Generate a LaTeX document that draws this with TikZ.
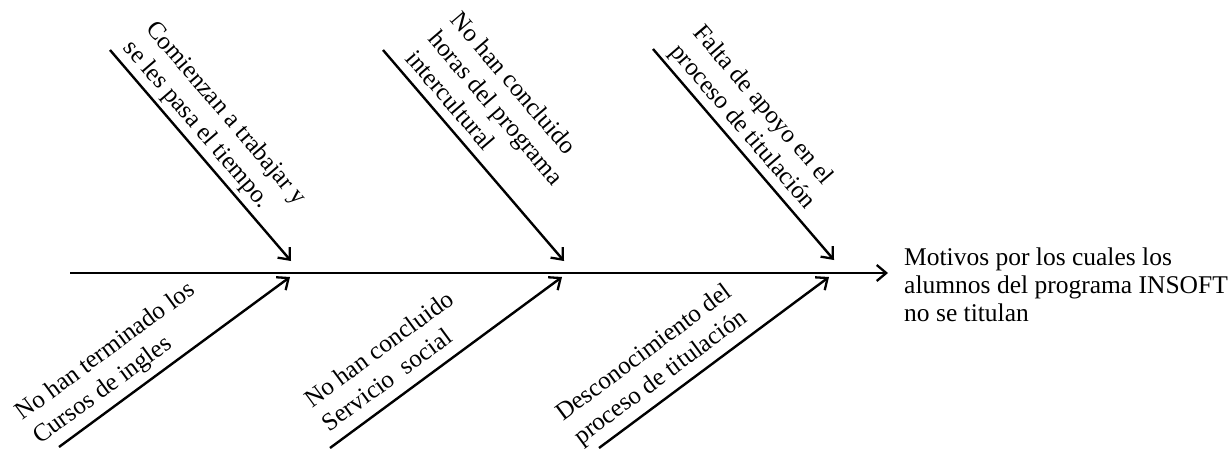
\documentclass[tikz,border=0pt]{standalone}
\usepackage{fontspec}
\setmainfont{Liberation Serif}
\usetikzlibrary{arrows.meta}
\newcommand{\mylines}[1]{\begin{tabular}{@{}l@{}}#1\end{tabular}}
\begin{document}
\begin{tikzpicture}[x=1pt,y=-1pt,
  tip/.tip={Straight Barb[length=9.5pt,width=16pt,line width=2.3pt]},
  bone/.style={line width=2.4pt,-tip},
  spine/.style={line width=2.6pt,-tip},
  lbl/.style={sloped,anchor=south west,font=\fontsize{25}{29.5}\selectfont},
  uplbl/.style={lbl,inner sep=0.5pt},
  lowlbl/.style={lbl,inner sep=3pt},
  effect/.style={anchor=west,inner sep=0pt,font=\fontsize{25.5}{28}\selectfont}]
\useasboundingbox (0,0) rectangle (1228,453);
% spine
\coordinate (sp0) at (70,273);
\coordinate (sp1) at (888,273);
\draw[spine] (sp0) -- (sp1);
\node[effect] (eff) at (904,288) {\mylines{Motivos por los cuales los\\alumnos del programa INSOFT\\no se titulan}};
% upper bones
\coordinate (u1s) at (110,50);  \coordinate (u1t) at (291,261);
\coordinate (u2s) at (383,50);  \coordinate (u2t) at (564,261);
\coordinate (u3s) at (653,49);  \coordinate (u3t) at (834,260);
\draw[bone] (u1s) -- (u1t) node[uplbl,pos=0.02] (l1) {\mylines{Comienzan a trabajar y\\se les pasa el tiempo.}};
\draw[bone] (u2s) -- (u2t) node[uplbl,pos=0.07] (l2) {\mylines{No han concluido\\horas del programa\\intercultural}};
\draw[bone] (u3s) -- (u3t) node[uplbl,pos=0.042] (l3) {\mylines{Falta de apoyo en el\\proceso de titulación}};
% lower bones
\coordinate (d1s) at (59,447);  \coordinate (d1t) at (290,277);
\coordinate (d2s) at (330,448); \coordinate (d2t) at (562,277);
\coordinate (d3s) at (599,448); \coordinate (d3t) at (829,277);
\draw[bone] (d1s) -- (d1t) node[lowlbl,pos=-0.063] (l4) {\mylines{No han terminado los\\Cursos de ingles}};
\draw[bone] (d2s) -- (d2t) node[lowlbl,pos=0.017] (l5) {\mylines{No han concluido\\Servicio\ \ social}};
\draw[bone] (d3s) -- (d3t) node[lowlbl,pos=-0.059] (l6) {\mylines{Desconocimiento del\\proceso de titulación}};
\end{tikzpicture}
\end{document}
